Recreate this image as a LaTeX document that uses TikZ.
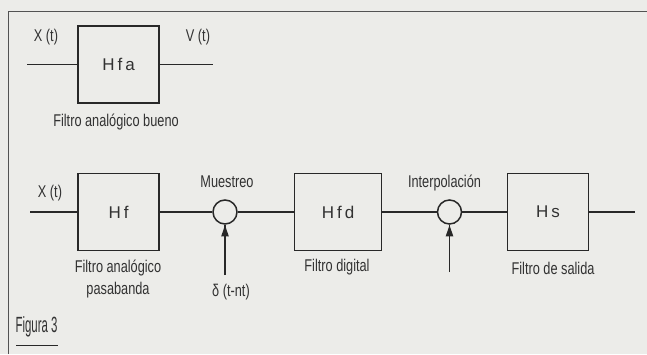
\documentclass[tikz,border=0pt]{standalone}
\usepackage{fontspec}
\setmainfont{Liberation Sans}
\newfontfamily\capfont{Liberation Sans}[FakeStretch=0.75]
\newfontfamily\figfont{Liberation Sans}[FakeStretch=0.52]
\usetikzlibrary{arrows.meta}
\definecolor{bg}{RGB}{236,236,233}
\definecolor{ink}{RGB}{40,40,40}
\definecolor{txt}{RGB}{50,50,50}
\tikzset{
  blk/.style={draw=ink, line width=1.5pt, minimum width=81pt, minimum height=77pt, inner sep=0pt,
              text=txt, font=\fontsize{17}{20}\selectfont},
  sig/.style={draw=ink, line width=1.5pt},
  mix/.style={circle, draw=ink, line width=1.5pt, minimum size=24pt, inner sep=0pt},
  arr/.style={draw=ink, line width=1.5pt},
  tiphead/.style={fill=ink},
  captxt/.style={text=txt, inner sep=0pt, align=center, font=\capfont\fontsize{17}{22}\selectfont},
  framestyle/.style={draw=ink!80, line width=1pt}
}
\newcommand{\lsp}{\kern3pt}
\begin{document}
\begin{tikzpicture}[x=1pt,y=-1pt]
\fill[bg] (0,0) rectangle (647,354);
\useasboundingbox (0,0) rectangle (647,354);
\draw[framestyle] (8,354) -- (8,11) -- (647,11);

% top section
\node[blk] (hfa) at (118.5,64.5) {H\lsp f\lsp a};
\coordinate (in1) at (27,64.5);
\coordinate (out1) at (213,64.5);
\draw[sig] (in1) -- (hfa.west);
\draw[sig] (hfa.east) -- (out1);
\node[captxt] (x1) at (46,37) {X (t)};
\node[captxt] (v1) at (198,37) {V (t)};
\node[captxt] (c1) at (116,122) {Filtro analógico bueno};

% bottom section
\node[blk] (hf) at (118.5,212) {H\lsp f};
\node[mix] (m1) at (225,212) {};
\node[blk, minimum width=87pt] (hfd) at (338,212) {H\lsp f\lsp d};
\node[mix] (m2) at (449.5,212) {};
\node[blk] (hs) at (548,212) {H\lsp s};
\coordinate (in2) at (30,212);
\coordinate (out2) at (635,212);
\coordinate (a1) at (225,275);
\coordinate (a2) at (449.5,272);

\draw[sig] (in2) -- (hf.west);
\draw[sig] (hf.east) -- (m1.west);
\draw[sig] (m1.east) -- (hfd.west);
\draw[sig] (hfd.east) -- (m2.west);
\draw[sig] (m2.east) -- (hs.west);
\draw[sig] (hs.east) -- (out2);
\draw[arr] (a1) -- (m1.south);
\draw[arr] (a2) -- (m2.south);
\fill[tiphead] ([yshift=-0.5pt]m1.south) -- ++(-3.8,11) -- ++(7.6,0) -- cycle;
\fill[tiphead] ([yshift=-0.5pt]m2.south) -- ++(-3.8,11) -- ++(7.6,0) -- cycle;

\node[captxt] (x2) at (50,193) {X (t)};
\node[captxt] (mu) at (227,182) {Muestreo};
\node[captxt] (de) at (231,292) {δ (t-nt)};
\node[captxt] (ip) at (444.5,183) {Interpolación};
\node[captxt] (c2) at (118,279) {Filtro analógico\\pasabanda};
\node[captxt] (c3) at (337,267.5) {Filtro digital};
\node[captxt] (c4) at (553,268.5) {Filtro de salida};

\node[text=txt, inner sep=0pt, font=\figfont\fontsize{22}{26}\selectfont] (fig) at (36.5,327) {Figura 3};
\draw[draw=ink, line width=1pt] (16,345) -- (58,345);
\end{tikzpicture}
\end{document}
